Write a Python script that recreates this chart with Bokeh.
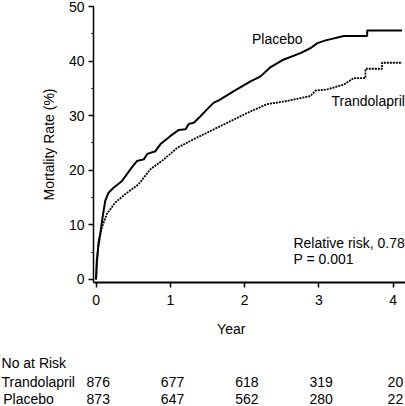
from bokeh.plotting import figure
from bokeh.models import Range1d, SingleIntervalTicker, Label
from bokeh.layouts import column
from bokeh.core.properties import value
from bokeh.embed import file_html
from bokeh.resources import INLINE

# ---- data ----
placebo_year = [0, 0.01, 0.03, 0.057, 0.087, 0.124, 0.168, 0.236, 0.347, 0.48, 0.55, 0.643, 0.689,
                0.80, 0.868, 1.003, 1.114, 1.205, 1.249, 1.316, 1.406, 1.497, 1.585, 1.653, 1.855,
                2.08, 2.215, 2.35, 2.53, 2.76, 2.89, 2.98, 3.09, 3.335, 3.65, 3.65, 4.12]
placebo_rate = [0, 3.4, 6.0, 8.3, 11.3, 14.4, 15.9, 16.8, 18.0, 20.5, 21.7, 22.0, 23.0,
                23.5, 24.8, 26.3, 27.4, 27.5, 28.5, 28.7, 29.9, 31.2, 32.4, 32.8, 34.5,
                36.3, 37.2, 38.9, 40.3, 41.5, 42.4, 43.3, 43.8, 44.6, 44.6, 45.6, 45.6]

trando_year = [0, 0.034, 0.078, 0.145, 0.26, 0.39, 0.57, 0.68, 0.733, 0.913, 1.093, 1.272, 1.406,
               1.675, 2.035, 2.30, 2.57, 2.886, 2.954, 3.11, 3.335, 3.47, 3.627, 3.627, 3.85, 3.85, 4.12]
trando_rate = [0, 7.1, 9.5, 12.0, 14.1, 15.6, 17.4, 19.3, 20.2, 22.0, 24.1, 25.4, 26.3,
               28.1, 30.5, 32.1, 32.7, 33.6, 34.6, 34.8, 35.7, 36.9, 36.9, 38.6, 38.6, 39.7, 39.7]

risk_years = [0, 1, 2, 3, 4]
risk_trandolapril = [876, 677, 618, 319, 20]
risk_placebo = [873, 647, 562, 280, 22]
group_names = ["Trandolapril", "Placebo"]

FONT = "Liberation Sans"
FS = "14px"

W = 405
LEFT = 93
X0, X1 = -0.034, 4.166
px_per_year = (W - LEFT) / (X1 - X0)

p = figure(width=W, height=318, output_backend="svg", toolbar_location=None,
           x_range=Range1d(X0, X1), y_range=Range1d(-0.55, 50),
           min_border_left=LEFT, min_border_right=0, min_border_top=6, min_border_bottom=36)
p.outline_line_color = None
p.xgrid.grid_line_color = None
p.ygrid.grid_line_color = None

p.line(placebo_year, placebo_rate, line_color="black", line_width=2)
p.line(trando_year, trando_rate, line_color="black", line_width=1.8, line_dash="2 1")

p.yaxis.ticker = SingleIntervalTicker(interval=10, num_minor_ticks=2)
p.xaxis.ticker = SingleIntervalTicker(interval=1, num_minor_ticks=0)
for ax in (p.xaxis[0], p.yaxis[0]):
    ax.axis_line_color = "black"
    ax.major_tick_line_color = "black"
    ax.major_tick_line_width = 1.5
    ax.major_tick_in = 0
    ax.major_tick_out = 5
    ax.minor_tick_in = 0
    ax.minor_tick_out = 2
    ax.minor_tick_line_color = "black"
    ax.major_label_text_font = FONT
    ax.major_label_text_font_size = FS
    ax.major_label_text_color = "black"
    ax.axis_label_text_font = FONT
    ax.axis_label_text_font_size = FS
    ax.axis_label_text_font_style = "normal"
    ax.axis_label_text_color = "black"
p.xaxis.axis_line_width = 2
p.yaxis.axis_line_width = 1.5
p.xaxis.major_label_standoff = 7
p.yaxis.major_label_standoff = 4
p.yaxis.axis_label = "Mortality Rate (%)"
p.yaxis.axis_label_standoff = 9


def lab(x, y, text):
    p.add_layout(Label(x=x, y=y, text=text, text_font=FONT, text_font_size=FS,
                       text_color="black", text_align="left", text_baseline="middle"))


lab(2.10, 44.0, "Placebo")
lab(3.17, 32.7, "Trandolapril")
lab(2.658, 6.7, "Relative risk, 0.78")
lab(2.658, 3.8, "P = 0.001")

# ---- lower panel: x title and numbers at risk, on the same year scale ----
H2 = 88
xl = X0 - LEFT / px_per_year
q = figure(width=W, height=H2, output_backend="svg", toolbar_location=None,
           x_range=Range1d(xl, X1), y_range=Range1d(H2, 0),
           x_axis_location=None, y_axis_location=None, frame_align=False,
           min_border_left=0, min_border_right=0, min_border_top=0, min_border_bottom=0)
q.outline_line_color = None
q.xgrid.grid_line_color = None
q.ygrid.grid_line_color = None

txt = dict(text_font=value(FONT), text_font_size=value(FS), text_color="black",
           text_baseline="middle")
q.text(x=[1.82], y=[10], text=["Year"], text_align="center", **txt)
q.text(x=[xl + 0.014], y=[44], text=["No at Risk"], text_align="left", **txt)
q.text(x=[xl + 0.014, xl + 0.037], y=[63, 80], text=group_names, text_align="left", **txt)
q.text(x=[yr + 0.03 for yr in risk_years], y=[63] * 5, text=[str(v) for v in risk_trandolapril],
       text_align="center", **txt)
q.text(x=[yr + 0.03 for yr in risk_years], y=[80] * 5, text=[str(v) for v in risk_placebo],
       text_align="center", **txt)

open("out.html", "w").write(file_html(column(p, q, spacing=0), INLINE))
